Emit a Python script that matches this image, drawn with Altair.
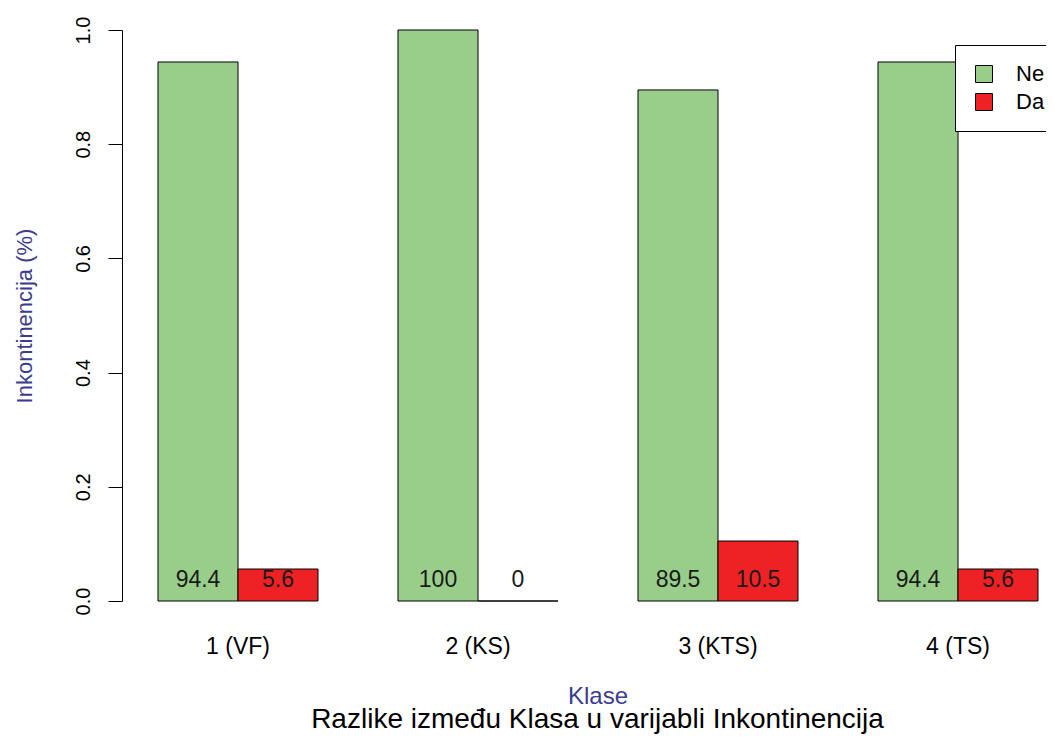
import altair as alt
import pandas as pd

# ---- data ----
classes = ["1 (VF)", "2 (KS)", "3 (KTS)", "4 (TS)"]
series = ["Ne", "Da"]
ne_pct = [94.4, 100, 89.5, 94.4]
da_pct = [5.6, 0, 10.5, 5.6]
y_ticks = [0.0, 0.2, 0.4, 0.6, 0.8, 1.0]
colors = ["#98CE8A", "#EE2225"]

rows = []
for i, c in enumerate(classes):
    rows.append({"klasa": c, "grupa": "Ne", "pct": ne_pct[i]})
    rows.append({"klasa": c, "grupa": "Da", "pct": da_pct[i]})
df = pd.DataFrame(rows)

FONT = "Liberation Sans"
AXIS_BLUE = "#3C3C8E"

x_enc = alt.X(
    "klasa:N",
    sort=classes,
    scale=alt.Scale(paddingInner=1 / 3, paddingOuter=0.091667, align=0.8182),
    axis=alt.Axis(
        title="Klase",
        labelAngle=0,
        ticks=False,
        tickSize=0,
        domain=False,
        grid=False,
        labelPadding=52,
        labelBaseline="alphabetic",
        labelFontSize=23,
        labelColor="black",
        labelFont=FONT,
        titleFont=FONT,
        titleFontSize=24,
        titleColor=AXIS_BLUE,
        titleFontWeight="normal",
        titleX=475.5,
        titleY=102,
        titleBaseline="alphabetic",
        titleAlign="center",
    ),
)
xoff = alt.XOffset("grupa:N", sort=series, scale=alt.Scale(paddingInner=0, paddingOuter=0))

y_enc = alt.Y(
    "udio:Q",
    scale=alt.Scale(domain=[0, 1], nice=False),
    axis=alt.Axis(
        title="Inkontinencija (%)",
        values=y_ticks,
        format=".1f",
        labelAngle=270,
        labelAlign="center",
        labelBaseline="alphabetic",
        labelFlush=False,
        labelOverlap=False,
        tickSize=14,
        labelPadding=19,
        grid=False,
        domainColor="black",
        tickColor="black",
        labelFontSize=20,
        labelColor="black",
        labelFont=FONT,
        titleFont=FONT,
        titleFontSize=22,
        titleColor=AXIS_BLUE,
        titleFontWeight="normal",
        titleAngle=270,
        titleX=-91,
        titleY=285.5,
        titleAlign="center",
        titleBaseline="alphabetic",
    ),
)

base = alt.Chart(df).transform_calculate(
    udio="datum.pct / 100",
    oznaka="'' + datum.pct",
    nula="0",
)

bars = base.mark_bar(stroke="black", strokeWidth=1, opacity=1).encode(
    x=x_enc,
    xOffset=xoff,
    y=y_enc,
    color=alt.Color(
        "grupa:N",
        sort=series,
        scale=alt.Scale(domain=series, range=colors),
        legend=alt.Legend(
            title=None,
            orient="none",
            legendX=833,
            legendY=15,
            direction="vertical",
            strokeColor="black",
            fillColor="white",
            padding=18,
            symbolType="square",
            symbolSize=289,
            symbolStrokeColor="black",
            symbolStrokeWidth=1,
            symbolOpacity=1,
            labelFontSize=22,
            labelFont=FONT,
            labelColor="black",
            labelOffset=21,
            rowPadding=6,
        ),
    ),
)

labels = base.mark_text(
    dy=-14, baseline="alphabetic", align="center", fontSize=23, font=FONT, color="#1a1a1a"
).encode(
    x=alt.X("klasa:N", sort=classes, axis=alt.Axis(domain=False, grid=False, ticks=False)),
    xOffset=alt.XOffset("grupa:N", sort=series),
    y=alt.Y("nula:Q", axis=alt.Axis(grid=False)),
    text="oznaka:N",
)

chart = (
    alt.layer(bars, labels)
    .properties(
        width=924,
        height=571,
        autosize=alt.AutoSizeParams(type="none"),
        padding={"left": 114, "top": 22, "right": 0, "bottom": 136},
        title=alt.TitleParams(
            text="Razlike između Klasa u varijabli Inkontinencija",
            orient="bottom",
            anchor="middle",
            frame="group",
            fontSize=28,
            font=FONT,
            fontWeight="normal",
            color="black",
            baseline="alphabetic",
            dx=13.5,
            offset=20,
        ),
    )
    .configure(font=FONT, view=alt.ViewConfig(stroke="transparent", strokeWidth=0))
)

chart.save("out.html", embed_options={"renderer": "svg", "actions": False})
